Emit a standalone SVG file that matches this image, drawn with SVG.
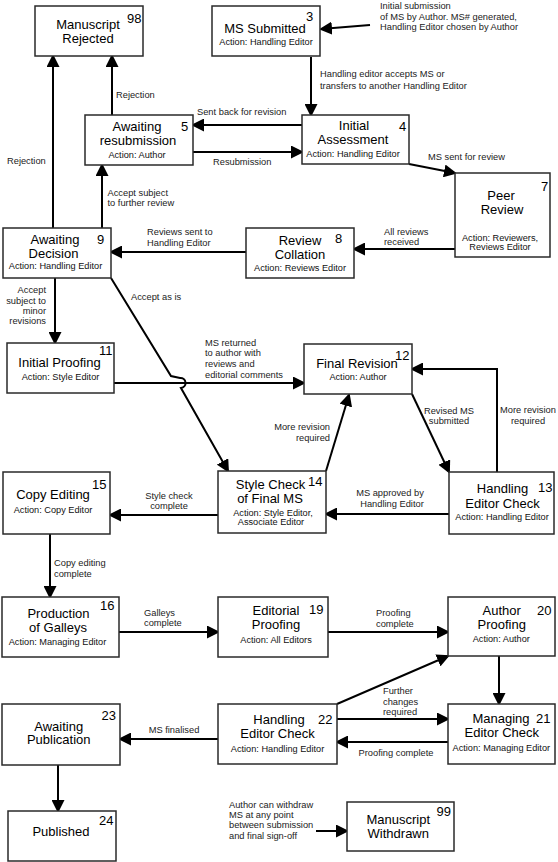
<svg xmlns="http://www.w3.org/2000/svg" width="558" height="862" viewBox="0 0 558 862">
<style>
.box{fill:#fff;stroke:#2a2a2a;stroke-width:1.5}
.t{font-family:"Liberation Sans",Arial,sans-serif;font-size:13px;fill:#000;text-anchor:middle}
.n{font-family:"Liberation Sans",Arial,sans-serif;font-size:13px;fill:#000}
.a{font-family:"Liberation Sans",Arial,sans-serif;font-size:9.2px;fill:#111;text-anchor:middle}
.l{font-family:"Liberation Sans",Arial,sans-serif;font-size:9.3px;fill:#222}
.c{fill:none;stroke:#000;stroke-width:2;marker-end:url(#ah)}
</style>
<defs>
<marker id="ah" markerUnits="userSpaceOnUse" markerWidth="13" markerHeight="13" viewBox="0 0 13 13" refX="11" refY="6.5" orient="auto"><path d="M0,0 L13,6.5 L0,13 z" fill="#000"/></marker>
</defs>
<rect width="558" height="862" fill="#fff"/>

<g id="connectors">
<path class="c" d="M370,25 L321,29"/>
<path class="c" d="M311,57 L311,115"/>
<path class="c" d="M302,125 L193,125"/>
<path class="c" d="M193,152 L302,152"/>
<path class="c" d="M112,115 L112,56"/>
<path class="c" d="M53,228 L53,56"/>
<path class="c" d="M102,228 L102,165"/>
<path class="c" d="M409,164 L455,173"/>
<path class="c" d="M455,249 L354,249"/>
<path class="c" d="M246,252 L111,252"/>
<path class="c" d="M55,278 L55,343"/>
<path class="c" d="M111,278 L171,376 L180,378 A5,5 0 0 1 181,388 L228,471"/>
<path class="c" d="M114,383 L304,383"/>
<path class="c" d="M412,394 L449,472"/>
<path class="c" d="M497,472 L497,369 L412,369"/>
<path class="c" d="M326,471 L349,395"/>
<path class="c" d="M449,514 L326,514"/>
<path class="c" d="M218,515 L110,515"/>
<path class="c" d="M50,534 L50,597"/>
<path class="c" d="M119,632 L218,632"/>
<path class="c" d="M328,632 L448,632"/>
<path class="c" d="M499,656 L499,704"/>
<path class="c" d="M337,704 L448,656"/>
<path class="c" d="M337,719 L448,719"/>
<path class="c" d="M448,742 L337,742"/>
<path class="c" d="M218,739 L120,739"/>
<path class="c" d="M58,765 L58,811"/>
<path class="c" d="M316,831 L347,831"/>
</g>

<g id="labels">
<text class="l" x="380" y="9">Initial submission</text>
<text class="l" x="380" y="19.5">of MS by Author. MS# generated,</text>
<text class="l" x="380" y="30">Handling Editor chosen by Author</text>
<text class="l" x="320" y="76.5">Handling editor accepts MS or</text>
<text class="l" x="320" y="88.5">transfers to another Handling Editor</text>
<text class="l" x="197" y="115">Sent back for revision</text>
<text class="l" x="213" y="164.5">Resubmission</text>
<text class="l" x="116" y="97.5">Rejection</text>
<text class="l" x="7" y="163.5">Rejection</text>
<text class="l" x="107.5" y="195.5">Accept subject</text>
<text class="l" x="107.5" y="206">to further review</text>
<text class="l" x="428" y="159.5">MS sent for review</text>
<text class="l" x="384" y="234.5">All reviews</text>
<text class="l" x="384" y="245">received</text>
<text class="l" x="147" y="235">Reviews sent to</text>
<text class="l" x="147" y="245.5">Handling Editor</text>
<text class="l" x="46" y="292.5" text-anchor="end">Accept</text>
<text class="l" x="46" y="303.5" text-anchor="end">subject to</text>
<text class="l" x="46" y="313.5" text-anchor="end">minor</text>
<text class="l" x="46" y="324" text-anchor="end">revisions</text>
<text class="l" x="131" y="300">Accept as is</text>
<text class="l" x="205" y="345.7">MS returned</text>
<text class="l" x="205" y="356">to author with</text>
<text class="l" x="205" y="366.7">reviews and</text>
<text class="l" x="205" y="377.5">editorial comments</text>
<text class="l" x="449" y="413.5" text-anchor="middle">Revised MS</text>
<text class="l" x="449" y="424" text-anchor="middle">submitted</text>
<text class="l" x="528" y="412.5" text-anchor="middle">More revision</text>
<text class="l" x="528" y="423.5" text-anchor="middle">required</text>
<text class="l" x="330" y="430" text-anchor="end">More revision</text>
<text class="l" x="330" y="440.7" text-anchor="end">required</text>
<text class="l" x="390" y="496" text-anchor="middle">MS approved by</text>
<text class="l" x="392" y="506.7" text-anchor="middle">Handling Editor</text>
<text class="l" x="169" y="498.5" text-anchor="middle">Style check</text>
<text class="l" x="169" y="508.5" text-anchor="middle">complete</text>
<text class="l" x="54" y="565.7">Copy editing</text>
<text class="l" x="54" y="576.7">complete</text>
<text class="l" x="144" y="615.7">Galleys</text>
<text class="l" x="144" y="626">complete</text>
<text class="l" x="376" y="616">Proofing</text>
<text class="l" x="376" y="626.7">complete</text>
<text class="l" x="383" y="694">Further</text>
<text class="l" x="383" y="704.5">changes</text>
<text class="l" x="383" y="714.5">required</text>
<text class="l" x="396" y="756" text-anchor="middle">Proofing complete</text>
<text class="l" x="174" y="732.7" text-anchor="middle">MS finalised</text>
<text class="l" x="229" y="807.5">Author can withdraw</text>
<text class="l" x="229" y="817.7">MS at any point</text>
<text class="l" x="229" y="827.7">between submission</text>
<text class="l" x="229" y="838.5">and final sign-off</text>
</g>

<g id="n98">
<rect class="box" x="35" y="6" width="108" height="50"/>
<text class="t" x="88" y="28.6">Manuscript</text>
<text class="t" x="88" y="42.6">Rejected</text>
<text class="n" x="127" y="23">98</text>
</g>
<g id="n3">
<rect class="box" x="212" y="6" width="108" height="50"/>
<text class="t" x="265" y="32.5">MS Submitted</text>
<text class="a" x="266" y="45">Action: Handling Editor</text>
<text class="n" x="306" y="21">3</text>
</g>
<g id="n4">
<rect class="box" x="302" y="115" width="107" height="49"/>
<text class="t" x="354" y="130">Initial</text>
<text class="t" x="353" y="144.3">Assessment</text>
<text class="a" x="353" y="156.5">Action: Handling Editor</text>
<text class="n" x="399" y="131">4</text>
</g>
<g id="n5">
<rect class="box" x="85" y="115" width="108" height="50"/>
<text class="t" x="137" y="130.5">Awaiting</text>
<text class="t" x="138" y="144.5">resubmission</text>
<text class="a" x="137" y="158">Action: Author</text>
<text class="n" x="181" y="131">5</text>
</g>
<g id="n9">
<rect class="box" x="3" y="228" width="108" height="50"/>
<text class="t" x="55" y="243.5">Awaiting</text>
<text class="t" x="53.5" y="257.7">Decision</text>
<text class="a" x="55.5" y="269">Action: Handling Editor</text>
<text class="n" x="97" y="243.5">9</text>
</g>
<g id="n8">
<rect class="box" x="246" y="228" width="108" height="50"/>
<text class="t" x="300" y="244.5">Review</text>
<text class="t" x="300" y="258.7">Collation</text>
<text class="a" x="300" y="271">Action: Reviews  Editor</text>
<text class="n" x="335" y="243">8</text>
</g>
<g id="n7">
<rect class="box" x="455" y="173" width="95" height="84"/>
<text class="t" x="501" y="200">Peer</text>
<text class="t" x="502" y="214.3">Review</text>
<text class="a" x="500" y="240.5">Action: Reviewers,</text>
<text class="a" x="500" y="250">Reviews  Editor</text>
<text class="n" x="541" y="191">7</text>
</g>
<g id="n11">
<rect class="box" x="7" y="343" width="107" height="50"/>
<text class="t" x="59.5" y="366.5">Initial Proofing</text>
<text class="a" x="60.5" y="379.5">Action: Style Editor</text>
<text class="n" x="99" y="355">11</text>
</g>
<g id="n12">
<rect class="box" x="304" y="344" width="108" height="50"/>
<text class="t" x="357" y="367.7">Final Revision</text>
<text class="a" x="358" y="380">Action: Author</text>
<text class="n" x="395" y="360">12</text>
</g>
<g id="n14">
<rect class="box" x="218" y="471" width="108" height="62"/>
<text class="t" x="270.5" y="488.5">Style Check</text>
<text class="t" x="270" y="502.7">of Final MS</text>
<text class="a" x="273" y="516">Action: Style Editor,</text>
<text class="a" x="271" y="525">Associate  Editor</text>
<text class="n" x="308" y="486">14</text>
</g>
<g id="n13">
<rect class="box" x="449" y="472" width="105" height="62"/>
<text class="t" x="502.5" y="492.7">Handling</text>
<text class="t" x="502.5" y="507.7">Editor Check</text>
<text class="a" x="502" y="519.5">Action: Handling Editor</text>
<text class="n" x="538" y="492">13</text>
</g>
<g id="n15">
<rect class="box" x="3" y="472" width="107" height="62"/>
<text class="t" x="53" y="499.3">Copy Editing</text>
<text class="a" x="53" y="512.7">Action: Copy Editor</text>
<text class="n" x="92" y="489">15</text>
</g>
<g id="n16">
<rect class="box" x="2" y="597" width="117" height="60"/>
<text class="t" x="58.5" y="617.7">Production</text>
<text class="t" x="58" y="632">of Galleys</text>
<text class="a" x="57.5" y="645">Action: Managing Editor</text>
<text class="n" x="100" y="609.5">16</text>
</g>
<g id="n19">
<rect class="box" x="218" y="597" width="110" height="60"/>
<text class="t" x="276" y="615">Editorial</text>
<text class="t" x="276" y="629.3">Proofing</text>
<text class="a" x="276" y="642.7">Action: All Editors</text>
<text class="n" x="309" y="614">19</text>
</g>
<g id="n20">
<rect class="box" x="448" y="597" width="107" height="59"/>
<text class="t" x="501.7" y="614.5">Author</text>
<text class="t" x="501.7" y="628.8">Proofing</text>
<text class="a" x="501.3" y="641.7">Action: Author</text>
<text class="n" x="537" y="614.5">20</text>
</g>
<g id="n21">
<rect class="box" x="448" y="704" width="107" height="60"/>
<text class="t" x="501" y="722.7">Managing</text>
<text class="t" x="501.8" y="736.7">Editor Check</text>
<text class="a" x="501.3" y="750.7">Action: Managing Editor</text>
<text class="n" x="536" y="723">21</text>
</g>
<g id="n22">
<rect class="box" x="218" y="704" width="119" height="60"/>
<text class="t" x="279" y="724.3">Handling</text>
<text class="t" x="277.5" y="738.3">Editor Check</text>
<text class="a" x="277.5" y="751.7">Action: Handling Editor</text>
<text class="n" x="318" y="723.7">22</text>
</g>
<g id="n23">
<rect class="box" x="2" y="704" width="118" height="61"/>
<text class="t" x="58.7" y="731">Awaiting</text>
<text class="t" x="58.7" y="744.3">Publication</text>
<text class="n" x="101.5" y="719.5">23</text>
</g>
<g id="n24">
<rect class="box" x="8" y="811" width="108" height="50"/>
<text class="t" x="61" y="836">Published</text>
<text class="n" x="99" y="824.5">24</text>
</g>
<g id="n99">
<rect class="box" x="347" y="802" width="107" height="49"/>
<text class="t" x="398.3" y="823.7">Manuscript</text>
<text class="t" x="398.3" y="837.7">Withdrawn</text>
<text class="n" x="436.5" y="816">99</text>
</g>
</svg>
